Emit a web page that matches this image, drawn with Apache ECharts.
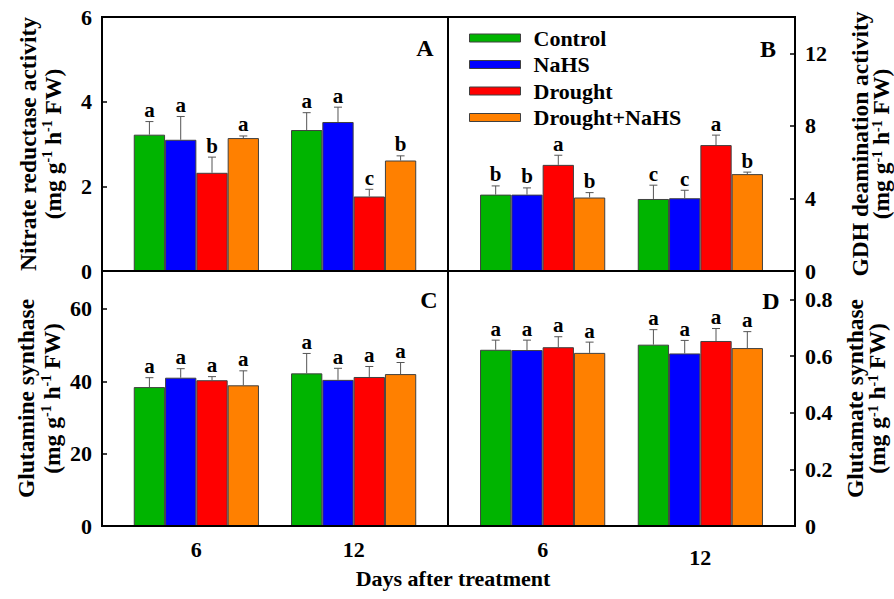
<!DOCTYPE html>
<html>
<head>
<meta charset="utf-8">
<script src="https://cdn.jsdelivr.net/npm/echarts@6/dist/echarts.min.js"></script>
<style>
html, body { margin: 0; padding: 0; background: #fff; }
#chart { width: 894px; height: 599px; }
</style>
</head>
<body>
<div id="chart"></div>
<script>
// categories
var days = [6, 12];
var treatments = ['Control', 'NaHS', 'Drought', 'Drought+NaHS'];

// A: nitrate reductase, one row per treatment -> [6 d, 12 d]
var nrMean = [[3.22, 3.33], [3.10, 3.52], [2.32, 1.76], [3.14, 2.61]];
var nrErr = [[0.31, 0.41], [0.55, 0.35], [0.37, 0.17], [0.05, 0.11]];
var nrLetters = [['a', 'a'], ['a', 'a'], ['b', 'c'], ['a', 'b']];

// B: GDH deamination
var gdhMean = [[4.21, 3.97], [4.21, 4.01], [5.85, 6.94], [4.05, 5.34]];
var gdhErr = [[0.48, 0.76], [0.37, 0.44], [0.53, 0.55], [0.27, 0.11]];
var gdhLetters = [['b', 'c'], ['b', 'c'], ['a', 'a'], ['b', 'b']];

// C: glutamine synthase
var gsMean = [[38.4, 42.2], [41.0, 40.4], [40.3, 41.2], [38.9, 42.0]];
var gsErr = [[2.6, 5.5], [2.5, 3.2], [1.0, 2.9], [4.0, 3.2]];
var gsLetters = [['a', 'a'], ['a', 'a'], ['a', 'a'], ['a', 'a']];

// D: glutamate synthase
var gogatMean = [[0.622, 0.640], [0.621, 0.609], [0.631, 0.653], [0.611, 0.628]];
var gogatErr = [[0.034, 0.053], [0.035, 0.046], [0.037, 0.044], [0.038, 0.058]];
var gogatLetters = [['a', 'a'], ['a', 'a'], ['a', 'a'], ['a', 'a']];

var FONT = "'Liberation Serif', 'Times New Roman', serif";
var colors = ['#00b400', '#0000ff', '#ff0000', '#ff8000'];
var barW = 31.3;

var panels = [
    {mean: nrMean, err: nrErr, letters: nrLetters, max: 6, interval: 2, side: 'left',
     title: 'Nitrate reductase activity', gap: 37, lh: 25,
     grid: {left: 102, top: 17, width: 346, height: 254}},
    {mean: gdhMean, err: gdhErr, letters: gdhLetters, max: 14, interval: 4, side: 'right',
     title: 'GDH deamination activity', gap: 54, lh: 21,
     grid: {left: 448, top: 17, width: 347, height: 254}},
    {mean: gsMean, err: gsErr, letters: gsLetters, max: 70.5, interval: 20, side: 'left',
     title: 'Glutamine synthase', gap: 37, lh: 26, showX: true,
     grid: {left: 102, top: 271, width: 346, height: 255}},
    {mean: gogatMean, err: gogatErr, letters: gogatLetters, max: 0.9, interval: 0.2, side: 'right',
     title: 'Glutamate synthase', gap: 49, lh: 22, showX: true,
     grid: {left: 448, top: 271, width: 347, height: 255}}
];

function unitName(t) {
    return '{t|' + t + '}\n{t|(mg g}{s|-1}{t| h}{s|-1}{t| FW)}';
}

// error bar + letter for one treatment
function makeErr(ti, letters) {
    return function (params, api) {
        var base = api.coord([api.value(0), api.value(1)]);
        var top = api.coord([api.value(0), api.value(1) + api.value(2)]);
        var cx = base[0] + (ti - 1.5) * barW;
        return {
            type: 'group',
            children: [
                {type: 'line', shape: {x1: cx, y1: base[1], x2: cx, y2: top[1]},
                 style: {stroke: '#555', lineWidth: 1}},
                {type: 'line', shape: {x1: cx - 4, y1: top[1], x2: cx + 4, y2: top[1]},
                 style: {stroke: '#555', lineWidth: 1}},
                {type: 'text', x: cx, y: top[1] - 1,
                 style: {text: letters[params.dataIndex], align: 'center', verticalAlign: 'bottom',
                         font: 'bold 21px ' + FONT, fill: '#000'}}
            ]
        };
    };
}

var grids = [], xAxes = [], yAxes = [], series = [];

panels.forEach(function (p, pi) {
    grids.push(Object.assign({show: true, borderColor: '#000', borderWidth: 2, backgroundColor: 'transparent'}, p.grid));
    xAxes.push({
        type: 'value', gridIndex: pi, min: 2.4, max: 15.6, z: 5,
        axisLine: {onZero: false, lineStyle: {color: '#000', width: 2}},
        axisTick: {show: false},
        splitLine: {show: false},
        axisLabel: {
            show: !!p.showX, customValues: days, margin: 12,
            fontFamily: FONT, fontWeight: 'bold', fontSize: 22, color: '#000',
            formatter: function (v) {
                return (pi === 3 && v === 12) ? '{lo|' + v + '}' : '' + v;
            },
            rich: {lo: {fontFamily: FONT, fontWeight: 'bold', fontSize: 22, color: '#000', padding: [8, 0, 0, 0]}}
        }
    });
    yAxes.push({
        type: 'value', gridIndex: pi, position: p.side, min: 0, max: p.max, interval: p.interval, z: 5,
        axisLine: {show: true, lineStyle: {color: '#000', width: 2}},
        axisTick: {show: true, inside: true, length: 5, lineStyle: {color: '#000', width: 1.5}},
        splitLine: {show: false},
        axisLabel: {margin: 10, showMaxLabel: p.max % p.interval === 0,
                    fontFamily: FONT, fontWeight: 'bold', fontSize: 22, color: '#000'},
        name: unitName(p.title), nameLocation: 'middle', nameRotate: 90, nameGap: p.gap,
        nameTextStyle: {
            fontFamily: FONT, fontWeight: 'bold', fontSize: 23.5, color: '#000',
            rich: {
                t: {fontFamily: FONT, fontWeight: 'bold', fontSize: 23.5, color: '#000', lineHeight: p.lh},
                s: {fontFamily: FONT, fontWeight: 'bold', fontSize: 14, color: '#000', lineHeight: 14, verticalAlign: 'top'}
            }
        }
    });
    treatments.forEach(function (name, ti) {
        series.push({
            type: 'bar', name: name, xAxisIndex: pi, yAxisIndex: pi,
            barWidth: barW, barGap: '0%',
            itemStyle: {color: colors[ti], borderColor: '#404040', borderWidth: 1},
            data: days.map(function (d, di) { return [d, p.mean[ti][di]]; })
        });
        series.push({
            type: 'custom', xAxisIndex: pi, yAxisIndex: pi, z: 3,
            encode: {x: 0, y: 1},
            data: days.map(function (d, di) { return [d, p.mean[ti][di], p.err[ti][di]]; }),
            renderItem: makeErr(ti, p.letters[ti])
        });
    });
});

var option = {
    animation: false,
    backgroundColor: '#fff',
    grid: grids,
    xAxis: xAxes,
    yAxis: yAxes,
    legend: {
        data: treatments, orient: 'vertical', left: 469, top: 27, padding: 0,
        icon: 'rect', itemWidth: 51, itemHeight: 8, itemGap: 4.5, selectedMode: false,
        itemStyle: {borderColor: '#404040', borderWidth: 1},
        textStyle: {fontFamily: FONT, fontWeight: 'bold', fontSize: 22, color: '#000', padding: [0, 0, 0, 8]}
    },
    graphic: [
        {type: 'text', x: 425, y: 48, style: {text: 'A', font: 'bold 24px ' + FONT, fill: '#000', align: 'center', verticalAlign: 'middle'}},
        {type: 'text', x: 768, y: 49, style: {text: 'B', font: 'bold 24px ' + FONT, fill: '#000', align: 'center', verticalAlign: 'middle'}},
        {type: 'text', x: 429, y: 300, style: {text: 'C', font: 'bold 24px ' + FONT, fill: '#000', align: 'center', verticalAlign: 'middle'}},
        {type: 'text', x: 771, y: 301, style: {text: 'D', font: 'bold 24px ' + FONT, fill: '#000', align: 'center', verticalAlign: 'middle'}},
        {type: 'text', x: 453, y: 578, style: {text: 'Days after treatment', font: 'bold 22px ' + FONT, fill: '#000', align: 'center', verticalAlign: 'middle'}}
    ],
    series: series
};

var myChart = echarts.init(document.getElementById('chart'), null, {renderer: 'svg'});
myChart.setOption(option);
</script>
</body>
</html>
